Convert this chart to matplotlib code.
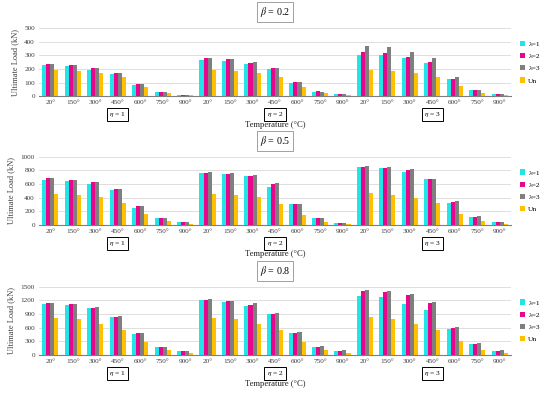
import matplotlib
matplotlib.use("Agg")
import matplotlib.pyplot as plt
import numpy as np

plt.rcParams['font.family'] = ['Liberation Serif', 'DejaVu Serif']
plt.rcParams['mathtext.fontset'] = 'stix'

temps = ["20°", "150°", "300°", "450°", "600°", "750°", "900°"]
etas = ["1", "2", "3"]
series = ["λ=1", "λ=2", "λ=3", "Un"]
colors = ["#22E4E6", "#E6078C", "#7F7F7F", "#FFC000"]
betas = ["0.2", "0.5", "0.8"]

# beta = 0.2 ; each list: eta1 (7 temps), eta2, eta3
b02_l1 = [227, 218, 195, 163, 83, 28, 12,  265, 256, 235, 198, 100, 33, 13,  305, 300, 280, 240, 124, 42, 15]
b02_l2 = [233, 226, 203, 170, 87, 30, 12,  278, 270, 245, 204, 103, 35, 14,  325, 320, 290, 250, 126, 45, 15]
b02_l3 = [233, 228, 206, 172, 88, 30, 12,  283, 276, 249, 207, 103, 34, 14,  369, 357, 327, 278, 141, 47, 15]
b02_un = [193, 185, 167, 140, 70, 25, 10,  193, 185, 167, 140, 70, 25, 10,   195, 185, 168, 141, 72, 25, 8]

# beta = 0.5
b05_l1 = [663, 643, 604, 515, 243, 99, 40,  762, 748, 713, 559, 312, 104, 35,  847, 837, 782, 678, 317, 119, 50]
b05_l2 = [683, 663, 629, 530, 277, 99, 40,  762, 752, 718, 594, 312, 104, 35,  852, 842, 802, 678, 337, 119, 50]
b05_l3 = [693, 663, 629, 530, 277, 99, 40,  772, 767, 728, 614, 312, 104, 35,  866, 856, 817, 678, 356, 129, 50]
b05_un = [460, 445, 405, 322, 158, 55, 20,  460, 445, 405, 312, 149, 50, 15,   465, 446, 401, 322, 158, 59, 20]

# beta = 0.8
b08_l1 = [1114, 1092, 1032, 846, 468, 178, 89,  1203, 1173, 1077, 899, 490, 178, 89,  1292, 1277, 1114, 988, 579, 252, 96]
b08_l2 = [1151, 1129, 1032, 846, 483, 178, 89,  1203, 1188, 1092, 899, 490, 178, 89,  1403, 1388, 1322, 1143, 594, 252, 96]
b08_l3 = [1151, 1129, 1054, 861, 483, 178, 96,  1225, 1196, 1136, 928, 512, 193, 104, 1426, 1403, 1344, 1158, 609, 260, 104]
b08_un = [824, 802, 690, 557, 290, 111, 45,     824, 802, 690, 557, 290, 111, 45,     832, 802, 690, 557, 297, 119, 45]

data = [
    [b02_l1, b02_l2, b02_l3, b02_un],
    [b05_l1, b05_l2, b05_l3, b05_un],
    [b08_l1, b08_l2, b08_l3, b08_un],
]
ymax = [500, 1000, 1500]
ystep = [100, 200, 300]

fig = plt.figure(figsize=(5.5, 3.94), dpi=100)
left, width = 0.071, 0.858
bottoms = [0.756, 0.429, 0.099]
height = 0.173

n = len(temps) * len(etas)
x = np.arange(n)
w = 0.18
offs = np.array([-1.5, -0.5, 0.5, 1.5]) * w

for p in range(3):
    ax = fig.add_axes([left, bottoms[p], width, height])
    for s in range(4):
        ax.bar(x + offs[s], data[p][s], width=w, color=colors[s], label=series[s], zorder=3)
    ax.set_xlim(-0.5, n - 0.5)
    ax.set_ylim(0, ymax[p])
    ax.set_yticks(np.arange(0, ymax[p] + 1, ystep[p]))
    ax.set_xticks(x)
    ax.set_xticklabels(temps * 3)
    ax.tick_params(axis='both', length=0, labelsize=5.2, colors='#404040', pad=3)
    ax.grid(axis='y', color='#D9D9D9', linewidth=0.6, zorder=0)
    for sp in ['top', 'left', 'right']:
        ax.spines[sp].set_visible(False)
    ax.spines['bottom'].set_color('#7F7F7F')
    ax.spines['bottom'].set_linewidth(0.8)
    ax.set_ylabel("Ultimate Load (kN)", fontsize=6, color='#404040', labelpad=4)
    ax.text(0.5, -0.37, "Temperature (°C)", transform=ax.transAxes, ha='center', va='top',
            fontsize=6.2, color='#202020')
    for k, e in enumerate(etas):
        ax.text(3 + 7 * k, -0.205, r"$\eta$ = " + e, transform=ax.get_xaxis_transform(),
                ha='center', va='top', fontsize=5.4,
                bbox=dict(boxstyle='square,pad=0.3', fc='white', ec='black', lw=0.7))
    ax.text(0.5, 1.23, r"$\beta$ = " + betas[p], transform=ax.transAxes, ha='center', va='center',
            fontsize=7.2, bbox=dict(boxstyle='square,pad=0.3', fc='white', ec='#A0A0A0', lw=0.7))
    leg = ax.legend(loc='center left', bbox_to_anchor=(1.005, 0.5), frameon=False, fontsize=5.4,
                    handlelength=0.7, handleheight=0.7, handletextpad=0.4, labelspacing=0.8)

fig.savefig("out.png", dpi=100)
